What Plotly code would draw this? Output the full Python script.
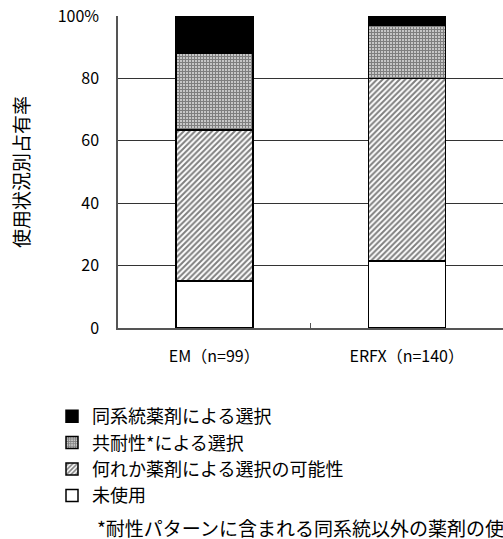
import plotly.graph_objects as go

categories = ["EM（n=99）", "ERFX（n=140）"]
series_names = ["未使用", "何れか薬剤による選択の可能性", "共耐性*による選択", "同系統薬剤による選択"]
unused = [15, 21.5]
possible = [48.5, 58.5]
coresist = [24.5, 17]
same_class = [12, 3]
y_ticks = [0, 20, 40, 60, 80, 100]
y_ticktext = ["0", "20", "40", "60", "80", "100%"]

FONT = "Noto Sans CJK JP"
W, H = 503, 539
L, R, T, B = 118, 0, 16, 211
PH = H - T - B
PW = W - L - R

fig = go.Figure()
styles = [
    dict(color="white", pattern=None),
    dict(color="white", pattern=dict(shape="/", size=4, solidity=0.5, fgcolor="black", bgcolor="white")),
    dict(color="white", pattern=dict(shape="+", size=3, solidity=0.75, fgcolor="black", bgcolor="white")),
    dict(color="black", pattern=None),
]
for i, (name, vals) in enumerate(zip(series_names, [unused, possible, coresist, same_class])):
    st = styles[i]
    marker = dict(color=st["color"], line=dict(color="black", width=1.5))
    if st["pattern"]:
        marker["pattern"] = st["pattern"]
    fig.add_trace(go.Bar(x=categories, y=vals, name=name, marker=marker,
                         legendgroup=f"g{i}", legendrank=10 - i, width=0.4))

fig.update_layout(
    width=W, height=H,
    margin=dict(l=L, r=R, t=T, b=B, pad=0),
    barmode="stack",
    plot_bgcolor="white", paper_bgcolor="white",
    font=dict(family=FONT, size=16, color="black"),
    showlegend=True,
    legend=dict(
        x=(52 - L) / PW, y=(H - B - 398) / PH, xanchor="left", yanchor="top",
        traceorder="grouped", tracegroupgap=0,
        font=dict(family=FONT, size=18, color="black"),
        bgcolor="rgba(0,0,0,0)", itemclick=False,
    ),
    xaxis=dict(
        range=[-0.5, 1.5], showline=True, linecolor="#555", linewidth=1.5,
        ticks="inside", tickson="boundaries", ticklen=5, tickcolor="#555",
        showgrid=False, ticklabelstandoff=13,
        tickfont=dict(family=FONT, size=16),
    ),
    yaxis=dict(
        range=[0, 100], tickvals=y_ticks, ticktext=y_ticktext,
        showline=True, linecolor="#555", linewidth=1.5,
        showgrid=True, gridcolor="#333", gridwidth=1,
        ticks="", ticklabelstandoff=14,
        tickfont=dict(family=FONT, size=16),
        zeroline=False,
    ),
    annotations=[
        dict(text="使用状況別占有率", textangle=-90, xref="paper", yref="paper",
             x=(20 - L) / PW, y=0.5, xanchor="center", yanchor="middle",
             showarrow=False, font=dict(family=FONT, size=19)),
        dict(text="*耐性パターンに含まれる同系統以外の薬剤の使用による選択",
             xref="paper", yref="paper", x=(95 - L) / PW, y=(H - B - 527) / PH,
             xanchor="left", yanchor="middle", showarrow=False,
             font=dict(family=FONT, size=19)),
    ],
)

fig.write_html("out.html")
